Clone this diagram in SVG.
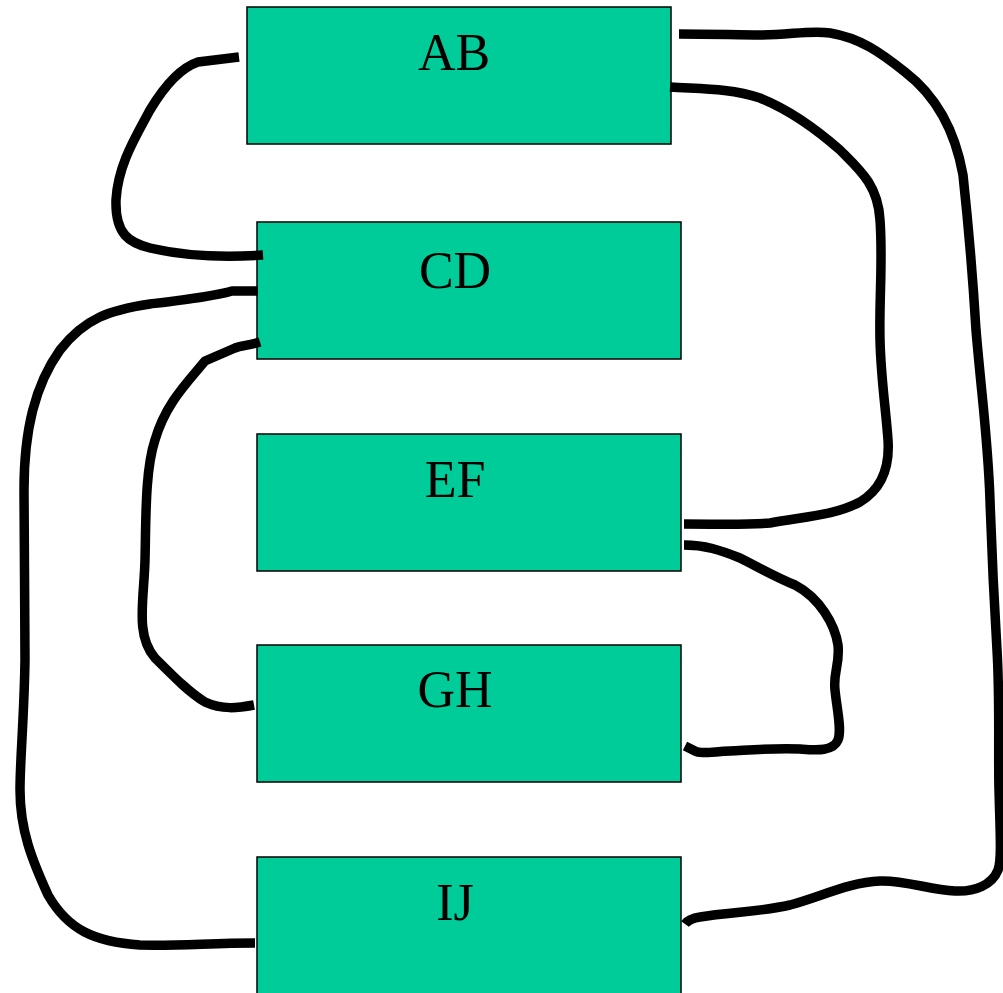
<svg xmlns="http://www.w3.org/2000/svg" width="1003" height="993" viewBox="0 0 1003 993">
<style>
.box{fill:#00CC99;stroke:#000;stroke-width:1.5}
.lbl{font-family:"Liberation Serif","Times New Roman",serif;font-size:52px;fill:#000;text-anchor:middle}
.wire{fill:none;stroke:#000;stroke-width:9.5;stroke-linejoin:round}
</style>
<rect width="1003" height="993" fill="#fff"/>
<g id="node-AB"><rect class="box" x="247" y="7" width="424" height="137"/><text class="lbl" x="454" y="70">AB</text></g>
<g id="node-CD"><rect class="box" x="257" y="222" width="424" height="137"/><text class="lbl" x="455" y="288">CD</text></g>
<g id="node-EF"><rect class="box" x="257" y="434" width="424" height="137"/><text class="lbl" x="455" y="497">EF</text></g>
<g id="node-GH"><rect class="box" x="257" y="645" width="424" height="137"/><text class="lbl" x="455" y="707">GH</text></g>
<g id="node-IJ"><rect class="box" x="257" y="857" width="424" height="150"/><text class="lbl" x="455" y="920">IJ</text></g>
<g id="connectors">
<path class="wire" d="M239,57 L198,62 C180,68 165,85 150,110 C135,138 118,165 116,200 C115,235 130,243 150,248 C185,256 220,258 263,255"/>
<path class="wire" d="M258,291 L232,291 C215,296 190,299 150,304 C110,310 85,318 60,350 C35,385 24,430 24,490 C24,560 25,600 25,660 C24,720 20,760 20,790 C20,830 32,860 48,895 C68,930 95,942 140,945 C180,946 210,943 255,943"/>
<path class="wire" d="M260,342 C250,345 240,346 235,348 L205,361 C185,385 165,405 155,440 C145,470 146,520 145,560 C144,600 135,635 155,658 C175,678 190,693 205,702 C222,710 238,708 254,705"/>
<path class="wire" d="M679,34 C710,34 740,35 760,35 C790,35 810,30 830,33 C860,38 880,52 905,72 C935,95 955,130 963,175 C970,240 973,280 976,330 C982,400 988,440 990,500 C992,560 994,600 997,650 C1000,700 998,750 999,790 C1000,830 1002,860 998,870 C992,885 975,892 955,891 C930,890 905,880 880,881 C850,882 820,897 790,905 C760,912 730,912 700,917 C693,918 688,920 685,924"/>
<path class="wire" d="M670,87 C700,89 730,88 760,98 C790,110 815,128 840,150 C860,170 878,185 880,220 C883,260 879,300 880,340 C881,380 886,410 888,440 C890,470 880,490 860,502 C835,515 810,516 770,523 C750,525 720,524 684,524"/>
<path class="wire" d="M684,545 C705,545 720,550 740,558 C760,568 775,577 795,585 C820,598 835,625 838,645 C840,665 833,672 835,690 C837,710 842,730 838,740 C833,752 815,750 800,749 C770,748 750,750 730,751 C710,752 700,754 695,751 L685,746"/>
</g>
</svg>
